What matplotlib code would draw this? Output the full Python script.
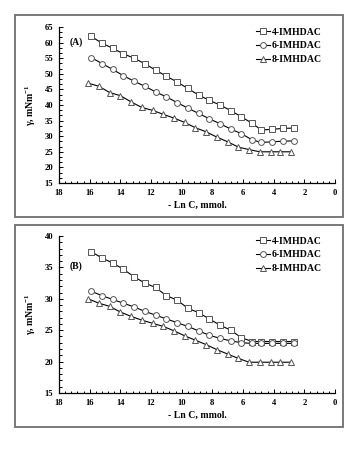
import matplotlib
matplotlib.use("Agg")
import matplotlib.pyplot as plt
from matplotlib.ticker import MultipleLocator
from matplotlib.patches import Rectangle

plt.rcParams['font.family'] = ['Liberation Serif', 'DejaVu Serif']
plt.rcParams['font.weight'] = 'bold'
plt.rcParams['mathtext.default'] = 'regular'

series_names = ["4-IMHDAC", "6-IMHDAC", "8-IMHDAC"]

# -Ln C values
x_4_6 = [15.9, 15.2, 14.5, 13.8, 13.1, 12.4, 11.7, 11.0, 10.3, 9.6,
         8.9, 8.2, 7.5, 6.8, 6.1, 5.4, 4.8, 4.1, 3.4, 2.7]
x_8 = [16.1, 15.4, 14.7, 14.0, 13.3, 12.6, 11.9, 11.2, 10.5, 9.8,
       9.1, 8.4, 7.7, 7.0, 6.3, 5.6, 4.9, 4.2, 3.6, 2.9]

# Panel A
a_4 = [62.0, 59.8, 58.2, 56.4, 55.0, 53.2, 51.2, 49.2, 47.4, 45.3,
       43.2, 41.5, 40.0, 38.2, 36.2, 34.1, 32.0, 32.2, 32.5, 32.6]
a_6 = [55.2, 53.3, 51.4, 49.4, 47.6, 46.0, 44.2, 42.6, 40.8, 39.0,
       37.3, 35.6, 34.0, 32.3, 30.8, 28.8, 28.0, 28.2, 28.4, 28.5]
a_8 = [47.0, 46.0, 44.0, 43.0, 41.0, 39.2, 38.3, 37.0, 35.8, 34.4,
       32.7, 31.4, 29.7, 28.2, 26.5, 25.7, 25.0, 25.0, 25.0, 25.0]

# Panel B
b_4 = [37.5, 36.5, 35.7, 34.7, 33.5, 32.5, 31.8, 30.5, 29.8, 28.5,
       27.8, 26.8, 25.8, 25.0, 23.8, 23.2, 23.2, 23.2, 23.2, 23.2]
b_6 = [31.2, 30.5, 29.9, 29.3, 28.7, 28.0, 27.4, 26.8, 26.2, 25.6,
       24.9, 24.2, 23.7, 23.3, 23.0, 22.9, 22.9, 22.9, 22.9, 22.9]
b_8 = [30.0, 29.3, 28.8, 27.9, 27.2, 26.6, 26.1, 25.6, 24.9, 24.1,
       23.4, 22.7, 21.9, 21.2, 20.5, 19.9, 19.9, 19.9, 19.9, 19.9]

markers = ['s', 'o', '^']
FS_TICK = 6.2
FS_TEXT = 7.0

fig = plt.figure(figsize=(3.57, 4.69), dpi=100)

# outer frames
for y0 in (1 - 217 / 469, 1 - 427 / 469):
    fig.patches.append(Rectangle((15 / 357, y0), 328 / 357, 202 / 469,
                                 transform=fig.transFigure, fill=False,
                                 edgecolor='#6e6e6e', linewidth=1.3))

def make_panel(rect, ys, ylim, ymin_step, label, label_pos):
    ax = fig.add_axes(rect)
    xs_list = [x_4_6, x_4_6, x_8]
    for name, xs, yv, m in zip(series_names, xs_list, ys, markers):
        ax.plot(xs, yv, color='black', linewidth=0.8, marker=m,
                markersize=4.2, markerfacecolor='white',
                markeredgecolor='#555555', markeredgewidth=0.7, label=name)
    ax.set_xlim(18, 0)
    ax.set_ylim(*ylim)
    ax.xaxis.set_major_locator(MultipleLocator(2))
    ax.xaxis.set_minor_locator(MultipleLocator(0.4))
    ax.yaxis.set_major_locator(MultipleLocator(5))
    ax.yaxis.set_minor_locator(MultipleLocator(ymin_step))
    ax.tick_params(which='both', direction='in', labelsize=FS_TICK, width=0.7,
                   colors='black')
    ax.tick_params(which='major', length=3, pad=4)
    ax.tick_params(which='minor', length=1.8)
    for s in ('top', 'right'):
        ax.spines[s].set_visible(False)
    for s in ('left', 'bottom'):
        ax.spines[s].set_linewidth(0.9)
    for t in ax.get_xticklabels() + ax.get_yticklabels():
        t.set_fontweight('bold')
    ax.set_xlabel('- Ln C, mmol.', fontsize=FS_TEXT, fontweight='bold', labelpad=3)
    ax.set_ylabel('γ, mNm$^{-1}$', fontsize=FS_TEXT, fontweight='bold', labelpad=5)
    ax.text(label_pos[0], label_pos[1], label, fontsize=FS_TEXT, fontweight='bold',
            ha='center', va='center')
    leg = ax.legend(loc='upper left', bbox_to_anchor=(0.715, 0.995),
                    frameon=False, fontsize=FS_TEXT, handlelength=1.45,
                    handletextpad=0.15, labelspacing=0.48, borderaxespad=0.0,
                    borderpad=0.0)
    for t in leg.get_texts():
        t.set_fontweight('bold')
    return ax

make_panel([59 / 357, 1 - 183 / 469, 276 / 357, 156 / 469],
           [a_4, a_6, a_8], (15, 65), 5 / 3, '(A)', (16.9, 60))
make_panel([59 / 357, 1 - 393 / 469, 276 / 357, 157 / 469],
           [b_4, b_6, b_8], (15, 40), 1, '(B)', (16.9, 35.2))

fig.savefig('out.png', dpi=100)
